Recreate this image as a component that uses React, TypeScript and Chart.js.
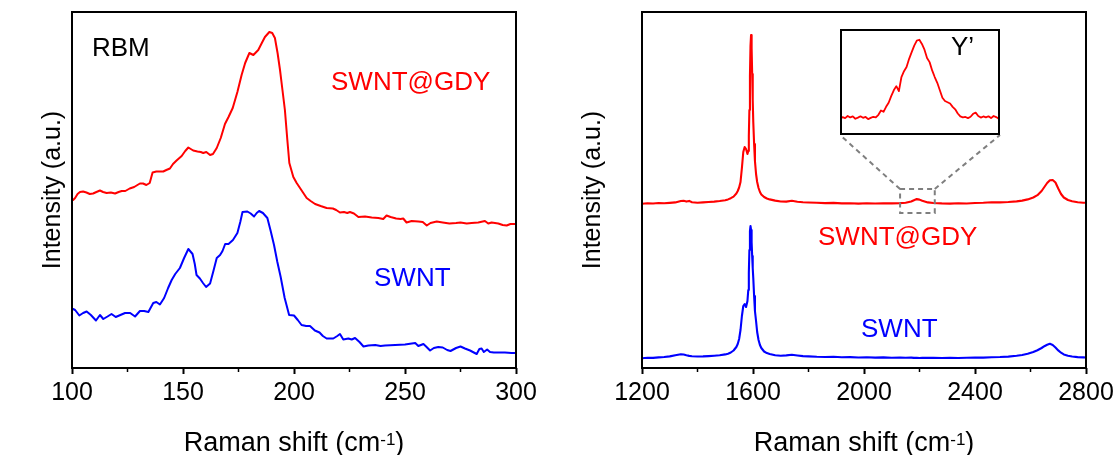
import React, { useEffect, useRef } from 'react';
import { Chart, registerables } from 'chart.js';

Chart.register(...registerables);

const FONT = "'Liberation Sans', Arial, Helvetica, sans-serif";

// ---------- Left panel: RBM region ----------
const rbmGdyShift = [100.5, 101.4, 102.5, 103.6, 105, 106.5, 108, 109.5, 111, 112.6, 114, 115.6, 117.5, 119.4, 121, 122.4, 124, 126, 128, 130.6, 132, 133.5, 135, 136.3, 138, 141.1, 142.5, 144.1, 145.5, 147.1, 149.4, 151, 152.4, 153.5, 154.6, 156.5, 158, 159.1, 160.5, 162.2, 163.5, 165.2, 167, 168.9, 170.5, 172.4, 174.5, 176.4, 178, 179.9, 181.7, 183.9, 185.5, 186.9, 188.9, 190.2, 191.4, 192.6, 193.7, 194.8, 195.9, 197, 197.9, 199.7, 201.2, 202.7, 204.2, 205.7, 207.5, 209.5, 212, 214.7, 217.5, 219, 220.7, 222.5, 224, 225.2, 227, 229, 232, 235, 238, 240.2, 241.7, 243.5, 246, 248, 249.2, 250.7, 253, 256, 258, 259.8, 261.5, 264.3, 267, 270, 273, 275, 277.8, 280, 283, 286, 287.5, 289, 292, 294, 295.8, 297.5, 300];
const rbmGdyIntensity = [168, 170, 174, 176, 176.5, 175.5, 174, 174.5, 176, 177.5, 176, 175, 175.5, 174.5, 176, 177, 177, 179.5, 181, 184.5, 184.5, 183, 185, 195.5, 196.5, 196.5, 198, 199.5, 204, 207.5, 212, 217, 220.5, 219, 217.5, 216.5, 216, 215, 216, 213, 214, 220, 230, 244, 251, 260, 276, 293, 305, 315, 313, 318, 325, 331, 336, 335, 330, 315, 298, 278, 258, 228, 205, 191, 185, 180, 175, 170, 167, 164, 162, 160, 159.5, 158, 155.5, 156, 155, 156, 154.5, 151, 151.5, 150.5, 150, 149, 152.5, 151, 149.5, 149, 149.5, 145.5, 147, 146.5, 146, 142.5, 145, 146.5, 145.5, 144.5, 145, 145.5, 144.5, 145, 145.5, 147, 144.5, 145.5, 144.5, 143, 142.5, 144, 144];

const rbmSwntShift = [100.5, 101.4, 103.3, 105, 106.6, 108.5, 110.8, 112.6, 114.1, 116, 117.8, 119.7, 121.8, 123.9, 126.2, 128.4, 130.6, 132.5, 134.4, 136.6, 138, 139.6, 141.5, 143.3, 144.9, 146.5, 148.6, 150.5, 152.4, 154.3, 155.3, 156.1, 157.6, 159, 160.4, 162.2, 163.7, 165.2, 166.7, 167.8, 169, 170.5, 172.5, 174.5, 175.8, 176.8, 179, 180.5, 182, 183.2, 184.3, 186, 188, 189.5, 191, 192.5, 194, 195.8, 197.8, 200, 201.7, 203.4, 205.5, 207.2, 209.4, 211.5, 213, 214.7, 217.7, 219.5, 220.7, 222.2, 224.5, 226, 227.5, 229.5, 231.3, 233.5, 236.6, 239, 241, 245.6, 250, 254.6, 256, 258.3, 259.5, 261.3, 263, 265, 267, 269, 270.5, 273, 275, 277, 279.3, 281, 282.3, 283.5, 284.5, 285.5, 287, 288.3, 290, 292, 295, 298, 300];
const rbmSwntIntensity = [59, 58, 52.5, 55, 56.5, 53, 47.5, 53, 49, 51.5, 54, 51, 53, 55, 55, 51.5, 57, 57, 56, 65, 66, 63.5, 70, 80, 88, 94, 100, 110, 119, 114, 104, 93, 89.5, 85, 81, 84.5, 97, 110, 113, 117, 124, 124, 128, 135, 146, 156, 156.5, 154.5, 151.5, 155, 157, 155, 150, 137, 123, 106, 91, 70, 53, 52.5, 48, 43, 42, 42, 37.5, 35.5, 32, 29.5, 29.5, 32, 34, 28.5, 29.5, 28.5, 30, 26, 21.5, 22.5, 23, 22, 22.5, 23, 23.5, 25, 22, 24, 21.5, 17.5, 20, 21, 20.5, 18, 17, 20, 21.5, 19.5, 17.5, 15.5, 14, 19, 19.5, 16, 18.5, 16, 15.5, 15.5, 15.5, 15, 15];

const rbmTicks = [100, 150, 200, 250, 300];
const rbmMinorTicks = [125, 175, 225, 275];

// ---------- Right panel: G / 2D region ----------
const gShift = [1200, 1220, 1240, 1260, 1280, 1300, 1320, 1340, 1350, 1360, 1370, 1380, 1400, 1420, 1440, 1460, 1480, 1500, 1510, 1520, 1530, 1540, 1545, 1550, 1555, 1560, 1565, 1570, 1575, 1580, 1583, 1585, 1587, 1589, 1591, 1593, 1595, 1597, 1599, 1601, 1604, 1607, 1611, 1615, 1620, 1625, 1630, 1640, 1650, 1660, 1680, 1700, 1720, 1740, 1760, 1780, 1800, 1830, 1860, 1890, 1920, 1950, 1980, 2010, 2040, 2070, 2100, 2130, 2150, 2170, 2180, 2190, 2200, 2210, 2230, 2250, 2280, 2310, 2340, 2370, 2400, 2430, 2460, 2490, 2520, 2550, 2570, 2590, 2610, 2625, 2640, 2650, 2660, 2670, 2680, 2690, 2700, 2710, 2720, 2735, 2750, 2770, 2790, 2800];
const gGdyIntensity = [164.2, 164.8, 164.5, 165.0, 164.7, 165.1, 165.6, 167.0, 167.3, 166.4, 167.1, 165.8, 165.3, 165.6, 166.0, 166.4, 167.0, 167.8, 168.6, 169.8, 171.4, 174.5, 177.0, 180.5, 186, 200, 216, 221, 219, 214, 217, 232, 258, 292, 322, 333, 320, 294, 268, 246, 224, 207, 194, 186, 180, 176, 173.5, 171, 169.5, 168.6, 167.4, 166.5, 166.4, 167.2, 166.3, 165.8, 165.5, 165.2, 164.9, 165.1, 164.6, 164.8, 164.4, 164.7, 164.5, 164.8, 164.6, 164.9, 165.3, 166.5, 167.8, 168.9, 168.4, 167.2, 165.6, 165.0, 164.6, 164.4, 164.7, 164.5, 165.0, 165.3, 165.8, 165.6, 166.0, 166.6, 167.4, 168.6, 170.5, 172.8, 177, 181, 185, 187.8, 188, 185.5, 179.5, 174, 170.5, 168, 166.8, 165.8, 165.3, 165.2];
const gSwntIntensity = [9.8, 10.3, 10.1, 10.6, 11.0, 11.6, 12.8, 13.8, 13.5, 12.7, 12.1, 11.8, 11.5, 11.6, 11.9, 12.3, 12.7, 13.6, 14.3, 15.5, 17.5, 21, 24, 29, 38, 52, 62, 64, 61, 67, 78, 95, 118, 137, 142, 138, 126, 112, 100, 90, 72, 57, 47, 36, 28, 23, 20, 16.5, 14.9, 14.0, 12.8, 12.3, 12.6, 13.2, 12.5, 11.9, 11.6, 11.2, 11.0, 11.3, 10.8, 10.9, 10.5, 10.7, 10.4, 10.6, 10.3, 10.5, 10.2, 10.4, 10.1, 10.3, 10.0, 10.2, 10.1, 10.3, 10.0, 10.2, 10.0, 10.3, 10.5, 10.4, 10.8, 11.0, 11.4, 12.2, 13.0, 14.2, 16.0, 17.8, 20.0, 21.8, 23.2, 24.2, 23.0, 20.5, 17.6, 15.3, 13.6, 12.3, 11.5, 10.9, 10.6, 10.5];

const gTicks = [1200, 1600, 2000, 2400, 2800];
const gMinorTicks = [1400, 1800, 2200, 2600];

// zoomed region (Y' band) shown in the inset
const zoomShiftRange = [2130, 2255];
const zoomIntensityRange = [155, 179];

// ---------- Inset: Y' band ----------
const insetShift = [2130, 2132, 2134, 2136, 2138, 2140, 2142, 2144, 2146, 2148, 2150, 2152, 2154, 2156, 2158, 2160, 2162, 2164, 2166, 2168, 2170, 2172, 2174, 2176, 2178, 2180, 2182, 2184, 2186, 2188, 2190, 2192, 2194, 2196, 2198, 2200, 2202, 2204, 2206, 2208, 2210, 2212, 2214, 2216, 2218, 2220, 2222, 2224, 2226, 2228, 2230, 2232, 2234, 2236, 2238, 2240, 2242, 2244, 2246, 2248, 2250, 2252, 2254, 2255];
const insetIntensity = [9.5, 10.8, 10.2, 11.5, 10.6, 11.2, 9.8, 10.5, 11.3, 10.4, 10.9, 9.6, 10.3, 11.0, 10.6, 12.2, 14.8, 14.0, 17.0, 19.5, 23.5, 27.0, 29.5, 26.5, 35.0, 38.5, 41.0, 46.0, 50.0, 54.0, 57.0, 57.5, 55.0, 51.5, 46.5, 44.0, 39.0, 35.0, 31.5, 27.0, 22.5, 20.5, 19.8, 19.0, 17.0, 15.5, 13.0, 11.2, 10.6, 10.9, 10.2, 11.0, 12.8, 13.5, 11.5, 10.5, 11.2, 10.6, 11.3, 10.2, 11.5, 10.8, 9.8, 9.6];

// ---------- layout ----------
const PANEL_W = 560;
const H = 455;
const INSET = { left: 840, top: 29, width: 160, height: 106 };

const RED = '#ff0000';
const BLUE = '#0000ff';

const toPoints = (xs: number[], ys: number[]) => xs.map((x, i) => ({ x, y: ys[i] }));

const lineStyle = { fill: false, pointRadius: 0, borderJoinStyle: 'round', borderCapStyle: 'round' };

type Label = { text: string; x: number; y: number; color: string; size: number };

function decorPlugin(opts: {
  minor: number[];
  labels: Label[];
  zoom?: { insetLeft: number; insetRight: number; insetBottom: number };
}) {
  return {
    id: 'decor',
    afterDraw(chart: any) {
      const { ctx, chartArea: a, scales } = chart;
      ctx.save();
      // frame
      ctx.strokeStyle = '#000';
      ctx.lineWidth = 2;
      ctx.setLineDash([]);
      ctx.strokeRect(a.left, a.top, a.right - a.left, a.bottom - a.top);
      // minor ticks
      ctx.lineWidth = 1.5;
      opts.minor.forEach((v) => {
        const px = scales.x.getPixelForValue(v);
        ctx.beginPath();
        ctx.moveTo(px, a.bottom);
        ctx.lineTo(px, a.bottom + 4);
        ctx.stroke();
      });
      // x axis title with superscript
      const cx = (a.left + a.right) / 2;
      const base = 451;
      const mainFont = `27px ${FONT}`;
      const supFont = `17px ${FONT}`;
      ctx.fillStyle = '#000';
      ctx.textBaseline = 'alphabetic';
      ctx.textAlign = 'left';
      ctx.font = mainFont;
      const t1 = 'Raman shift (cm';
      const t3 = ')';
      const w1 = ctx.measureText(t1).width;
      const w3 = ctx.measureText(t3).width;
      ctx.font = supFont;
      const t2 = '-1';
      const w2 = ctx.measureText(t2).width;
      let sx = cx - (w1 + w2 + w3) / 2;
      ctx.font = mainFont;
      ctx.fillText(t1, sx, base);
      sx += w1;
      ctx.font = supFont;
      ctx.fillText(t2, sx, base - 6);
      sx += w2;
      ctx.font = mainFont;
      ctx.fillText(t3, sx, base);
      // annotations
      opts.labels.forEach((l) => {
        ctx.font = `${l.size}px ${FONT}`;
        ctx.fillStyle = l.color;
        ctx.fillText(l.text, l.x, l.y);
      });
      // zoom box and connectors
      if (opts.zoom) {
        const x1 = scales.x.getPixelForValue(zoomShiftRange[0]);
        const x2 = scales.x.getPixelForValue(zoomShiftRange[1]);
        const yTop = scales.y.getPixelForValue(zoomIntensityRange[1]);
        const yBot = scales.y.getPixelForValue(zoomIntensityRange[0]);
        ctx.strokeStyle = '#7f7f7f';
        ctx.lineWidth = 2;
        ctx.setLineDash([5, 4]);
        ctx.strokeRect(x1, yTop, x2 - x1, yBot - yTop);
        ctx.beginPath();
        ctx.moveTo(x1, yTop);
        ctx.lineTo(opts.zoom.insetLeft, opts.zoom.insetBottom);
        ctx.moveTo(x2, yTop);
        ctx.lineTo(opts.zoom.insetRight, opts.zoom.insetBottom);
        ctx.stroke();
      }
      ctx.restore();
    },
  };
}

function panelConfig(p: {
  datasets: any[];
  xMin: number;
  xMax: number;
  ticks: number[];
  yMax: number;
  yAxisWidth: number;
  rightPad: number;
  titlePad: number;
  plugin: any;
}): any {
  return {
    type: 'line',
    data: { datasets: p.datasets },
    options: {
      animation: false,
      responsive: false,
      maintainAspectRatio: false,
      events: [],
      layout: { padding: { left: 0, top: 12, right: p.rightPad, bottom: 0 } },
      plugins: { legend: { display: false }, tooltip: { enabled: false }, title: { display: false } },
      elements: { point: { radius: 0 }, line: { tension: 0 } },
      scales: {
        x: {
          type: 'linear',
          min: p.xMin,
          max: p.xMax,
          afterBuildTicks: (s: any) => {
            s.ticks = p.ticks.map((v) => ({ value: v }));
          },
          afterFit: (s: any) => {
            s.height = H - 368;
          },
          ticks: {
            color: '#000',
            font: { family: FONT, size: 25 },
            padding: 4,
            maxRotation: 0,
            autoSkip: false,
            callback: (v: any) => String(v),
          },
          grid: {
            display: true,
            drawOnChartArea: false,
            drawTicks: true,
            tickLength: 6,
            tickWidth: 2,
            tickColor: '#000',
          },
          border: { display: false },
          title: { display: false },
        },
        y: {
          type: 'linear',
          min: 0,
          max: p.yMax,
          afterFit: (s: any) => {
            s.width = p.yAxisWidth;
          },
          ticks: { display: false },
          grid: { display: false, drawTicks: false },
          border: { display: false },
          title: {
            display: true,
            text: 'Intensity (a.u.)',
            color: '#000',
            font: { family: FONT, size: 25, lineHeight: 1 },
            padding: { top: p.titlePad, bottom: 0 },
          },
        },
      },
    },
    plugins: [p.plugin],
  };
}

export default function App() {
  const leftRef = useRef<HTMLCanvasElement>(null);
  const rightRef = useRef<HTMLCanvasElement>(null);
  const insetRef = useRef<HTMLCanvasElement>(null);

  useEffect(() => {
    Chart.defaults.font.family = FONT;
    const charts: Chart[] = [];

    charts.push(
      new Chart(
        leftRef.current as HTMLCanvasElement,
        panelConfig({
          datasets: [
            { ...lineStyle, data: toPoints(rbmGdyShift, rbmGdyIntensity), borderColor: RED, borderWidth: 2 },
            { ...lineStyle, data: toPoints(rbmSwntShift, rbmSwntIntensity), borderColor: BLUE, borderWidth: 2 },
          ],
          xMin: 100,
          xMax: 300,
          ticks: rbmTicks,
          yMax: 356,
          yAxisWidth: 72,
          rightPad: PANEL_W - 516,
          titlePad: 40.5,
          plugin: decorPlugin({
            minor: rbmMinorTicks,
            labels: [
              { text: 'RBM', x: 92, y: 56, color: '#000', size: 26 },
              { text: 'SWNT@GDY', x: 331, y: 90, color: RED, size: 26 },
              { text: 'SWNT', x: 374, y: 286, color: BLUE, size: 26 },
            ],
          }),
        })
      )
    );

    charts.push(
      new Chart(
        rightRef.current as HTMLCanvasElement,
        panelConfig({
          datasets: [
            { ...lineStyle, data: toPoints(gShift, gGdyIntensity), borderColor: RED, borderWidth: 2.1 },
            { ...lineStyle, data: toPoints(gShift, gSwntIntensity), borderColor: BLUE, borderWidth: 2.1 },
          ],
          xMin: 1200,
          xMax: 2800,
          ticks: gTicks,
          yMax: 356,
          yAxisWidth: 642 - PANEL_W,
          rightPad: PANEL_W * 2 - 1086,
          titlePad: 20.5,
          plugin: decorPlugin({
            minor: gMinorTicks,
            labels: [
              { text: 'SWNT@GDY', x: 818 - PANEL_W, y: 245, color: RED, size: 26 },
              { text: 'SWNT', x: 861 - PANEL_W, y: 337, color: BLUE, size: 26 },
            ],
            zoom: {
              insetLeft: INSET.left - PANEL_W,
              insetRight: INSET.left + INSET.width - PANEL_W,
              insetBottom: INSET.top + INSET.height,
            },
          }),
        })
      )
    );

    charts.push(
      new Chart(insetRef.current as HTMLCanvasElement, {
        type: 'line',
        data: {
          datasets: [
            { ...lineStyle, data: toPoints(insetShift, insetIntensity), borderColor: RED, borderWidth: 1.8 },
          ],
        },
        options: {
          animation: false,
          responsive: false,
          maintainAspectRatio: false,
          events: [],
          layout: { padding: 0 },
          plugins: { legend: { display: false }, tooltip: { enabled: false } },
          scales: {
            x: { type: 'linear', display: false, min: 2130, max: 2255 },
            y: { type: 'linear', display: false, min: 0, max: 64 },
          },
        },
        plugins: [
          {
            id: 'insetDecor',
            afterDraw(chart: any) {
              const { ctx } = chart;
              ctx.save();
              ctx.strokeStyle = '#000';
              ctx.lineWidth = 2;
              ctx.strokeRect(1, 1, INSET.width - 2, INSET.height - 2);
              ctx.fillStyle = '#000';
              ctx.font = `26px ${FONT}`;
              ctx.textBaseline = 'alphabetic';
              ctx.fillText('Y\u2019', 951 - INSET.left, 55 - INSET.top);
              ctx.restore();
            },
          },
        ],
      } as any)
    );

    return () => charts.forEach((c) => c.destroy());
  }, []);

  return (
    <div style={{ position: 'absolute', left: 0, top: 0, width: 1120, height: H, background: '#fff', overflow: 'hidden' }}>
      <canvas ref={leftRef} width={PANEL_W} height={H} style={{ position: 'absolute', left: 0, top: 0, width: PANEL_W, height: H }} />
      <canvas ref={rightRef} width={PANEL_W} height={H} style={{ position: 'absolute', left: PANEL_W, top: 0, width: PANEL_W, height: H }} />
      <canvas
        ref={insetRef}
        width={INSET.width}
        height={INSET.height}
        style={{ position: 'absolute', left: INSET.left, top: INSET.top, width: INSET.width, height: INSET.height, background: '#fff' }}
      />
    </div>
  );
}
